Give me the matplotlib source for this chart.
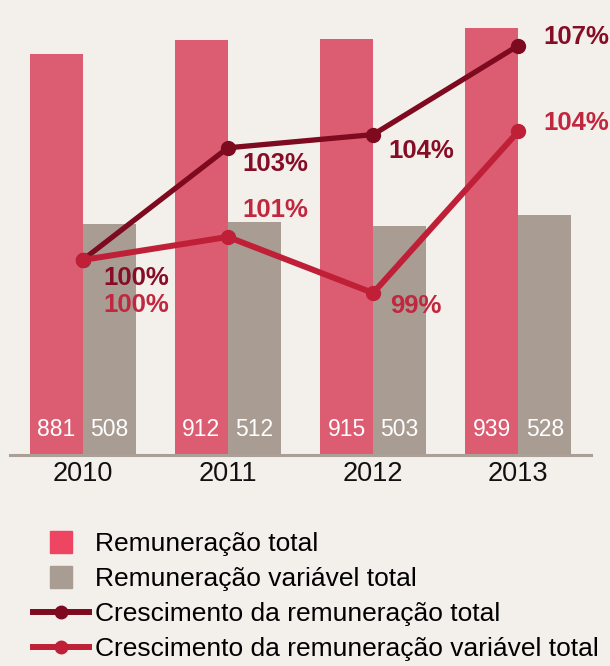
import matplotlib
matplotlib.use("Agg")
import matplotlib.pyplot as plt
from matplotlib.lines import Line2D
import numpy as np

years = ["2010", "2011", "2012", "2013"]
rem_total = [881, 912, 915, 939]
rem_variavel = [508, 512, 503, 528]
cresc_total = [100, 103.4, 103.8, 106.5]
cresc_variavel = [100, 100.7, 99.0, 103.9]
cresc_total_labels = ["100%", "103%", "104%", "107%"]
cresc_variavel_labels = ["100%", "101%", "99%", "104%"]
legend_labels = ["Remuneração total", "Remuneração variável total",
                 "Crescimento da remuneração total",
                 "Crescimento da remuneração variável total"]

BG = "#f3efeb"
PINK = "#dc5c71"
PINK_LEG = "#ee4563"
GREY = "#a89c93"
DARK = "#7e0a20"
RED = "#bf2037"
DARK_TXT = "#850d26"
RED_TXT = "#c1273e"
AXIS = "#aaa097"

plt.rcParams['font.family'] = ['Liberation Sans', 'DejaVu Sans']

fig = plt.figure(figsize=(6.10, 6.66), dpi=100, facecolor=BG)
ax = fig.add_axes([10/610, 1 - 455/666, 581/610, 455/666])
ax.set_facecolor(BG)

x = np.arange(len(years))
w = 0.365
ax.bar(x - w/2, rem_total, width=w, color=PINK, zorder=2)
ax.bar(x + w/2, rem_variavel, width=w, color=GREY, zorder=2)
ax.set_xlim(-0.5, 3.5)
ax.set_ylim(0, 1000)
ax.set_yticks([])
ax.set_xticks(x)
ax.set_xticklabels(years, fontsize=19.5, color="#111111")
ax.tick_params(axis='x', length=0, pad=4)
for s in ['top', 'right', 'left']:
    ax.spines[s].set_visible(False)
ax.spines['bottom'].set_color(AXIS)
ax.spines['bottom'].set_linewidth(2.2)

for xi, v in zip(x, rem_total):
    ax.text(xi - w/2, 55, str(v), ha='center', va='center', color='white',
            fontsize=16.5, zorder=3)
for xi, v in zip(x, rem_variavel):
    ax.text(xi + w/2, 55, str(v), ha='center', va='center', color='white',
            fontsize=16.5, zorder=3)

ax2 = ax.twinx()
ax2.set_ylim(100 - 195/33, 100 + 260/33)
ax2.set_xlim(-0.5, 3.5)
ax2.axis('off')
ax2.plot(x, cresc_total, color=DARK, lw=3.8, marker='o', ms=10, zorder=4,
         solid_capstyle='round')
ax2.plot(x, cresc_variavel, color=RED, lw=4.3, marker='o', ms=10, zorder=5,
         solid_capstyle='round')

px = 72/100
tot_off = [(21, -18), (15, -16), (15, -16), (25, 8)]
var_off = [(21, -45), (15, 27), (17, -13), (25, 8)]
for xi, v, lab, (dx, dy) in zip(x, cresc_total, cresc_total_labels, tot_off):
    ax2.annotate(lab, (xi, v), xytext=(dx*px, dy*px), textcoords='offset points',
                 ha='left', va='center', fontsize=18.5, fontweight='bold',
                 color=DARK_TXT, zorder=6)
for xi, v, lab, (dx, dy) in zip(x, cresc_variavel, cresc_variavel_labels, var_off):
    ax2.annotate(lab, (xi, v), xytext=(dx*px, dy*px), textcoords='offset points',
                 ha='left', va='center', fontsize=18.5, fontweight='bold',
                 color=RED_TXT, zorder=6)

handles = [
    Line2D([], [], ls='none', marker='s', ms=16, color=PINK_LEG),
    Line2D([], [], ls='none', marker='s', ms=16, color=GREY),
    Line2D([], [], color=DARK, lw=4.3, marker='o', ms=9),
    Line2D([], [], color=RED, lw=4.3, marker='o', ms=9),
]
fig.legend(handles, legend_labels, loc='upper left',
           bbox_to_anchor=(33/610, 1 - 532/666), frameon=False,
           fontsize=19.0, handlelength=2.12, handletextpad=0.22,
           labelspacing=0.42, borderpad=0, borderaxespad=0)

fig.savefig("out.png", dpi=100, facecolor=BG)
